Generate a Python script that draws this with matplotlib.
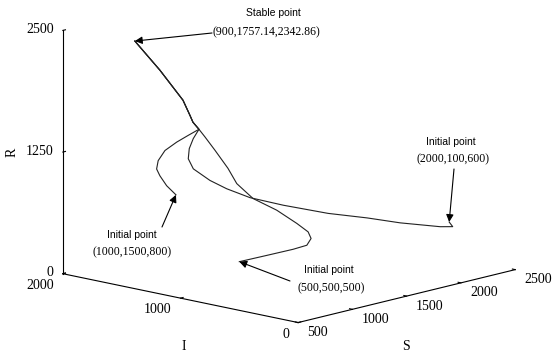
import numpy as np
import matplotlib
matplotlib.use("Agg")
from matplotlib import pyplot as plt
from matplotlib import rcParams
from mpl_toolkits.mplot3d import proj3d

rcParams["font.family"] = "serif"
rcParams["font.serif"] = ["Liberation Serif", "DejaVu Serif"]

W, H = 553, 358

# trajectories, as (S, I, R)
s1 = [2000, 2000, 1950, 1700, 1500, 1300, 1100, 1000, 930, 880, 810, 770, 790, 830]
i1 = [100, 70, 130, 240, 336, 483, 679, 870, 1004, 1100, 1177, 1183, 1193, 1196]
r1 = [600, 560, 558, 638, 719, 783, 872, 929, 1006, 1081, 1200, 1313, 1409, 1500]

s2 = [1000, 920, 850, 810, 780, 770, 800, 850]
i2 = [1500, 1505, 1498, 1489, 1448, 1381, 1309, 1257]
r2 = [800, 914, 1037, 1120, 1224, 1348, 1444, 1513]

s3 = [500, 677, 844, 927, 950, 939, 889, 812, 735, 726, 753, 796, 856]
i3 = [500, 430, 360, 320, 305, 320, 370, 470, 600, 730, 830, 980, 1120]
r3 = [500, 534, 569, 598, 665, 732, 820, 952, 1060, 1183, 1308, 1444, 1529]

# common approach to the stable point
s_tail = [900, 890, 900, 900, 900, 900]
i_tail = [1212, 1254, 1289, 1348, 1544, 1757.14]
r_tail = [1573, 1638, 1698, 1838, 2097, 2342.86]

stable = (900, 1757.14, 2342.86)
starts = [(2000, 100, 600), (1000, 1500, 800), (500, 500, 500)]

s_ticks = [500, 1000, 1500, 2000, 2500]
i_ticks = [0, 1000, 2000]
r_ticks = [0, 1250, 2500]

fig = plt.figure(figsize=(W / 100, H / 100), dpi=100)
ax = fig.add_axes([0.0564, -0.139, 0.908, 1.402], projection="3d", proj_type="ortho")
ax.view_init(elev=13, azim=-137.3)
ax.set_box_aspect((1, 1, 0.78))

for s, i, r in [(s1, i1, r1), (s2, i2, r2), (s3, i3, r3)]:
    ax.plot(s + s_tail, i + i_tail, r + r_tail, color="#222222", lw=0.8)

ax.set_xlim(500, 2500)
ax.set_ylim(0, 2000)
ax.set_zlim(0, 2500)
ax.set_xticks(s_ticks)
ax.set_yticks(i_ticks)
ax.set_zticks(r_ticks)
ax.set_xticklabels([])
ax.set_yticklabels([])
ax.set_zticklabels([])
ax.grid(False)
for axis in (ax.xaxis, ax.yaxis, ax.zaxis):
    axis.pane.set_facecolor((1, 1, 1, 0))
    axis.pane.set_edgecolor((1, 1, 1, 0))
    axis.line.set_color("black")
    axis.line.set_linewidth(0.8)
    axis._axinfo["tick"]["inward_factor"] = 0.0
    axis._axinfo["tick"]["outward_factor"] = 0.15
    axis._axinfo["tick"]["color"] = "black"


def to2d(p):
    x, y, _ = proj3d.proj_transform(p[0], p[1], p[2], ax.get_proj())
    return x, y


# tick labels placed next to the projected tick positions
for v in s_ticks:
    ax.annotate(str(v), xy=to2d((v, 0, 0)), xytext=(9, -10), textcoords="offset pixels",
                ha="left", va="center", fontsize=10)
for v in i_ticks:
    ax.annotate(str(v), xy=to2d((500, v, 0)), xytext=(-9, -11.5), textcoords="offset pixels",
                ha="right", va="center", fontsize=10)
for v in r_ticks:
    ax.annotate(str(v), xy=to2d((500, 2000, v)), xytext=(-9, 1), textcoords="offset pixels",
                ha="right", va="center", fontsize=10)

fig.text(12 / W, 1 - 152 / H, "R", rotation=90, ha="center", va="center", fontsize=10)
fig.text(184 / W, 1 - 347 / H, "I", ha="center", va="center", fontsize=10)
fig.text(406 / W, 1 - 347 / H, "S", ha="center", va="center", fontsize=10)

arrow = dict(arrowstyle="-|>", color="black", lw=0.8, shrinkA=0, shrinkB=0, mutation_scale=11)

# stable point label
fig.text(273 / W, 1 - 13 / H, "Stable point", family="Liberation Sans", fontsize=7.5, ha="center", va="center")
fig.text(266 / W, 1 - 32 / H, "(900,1757.14,2342.86)", fontsize=8.5, ha="center", va="center")
ax.annotate("", xy=to2d(stable), xycoords="data", xytext=(212, H - 33),
            textcoords="figure pixels", arrowprops=arrow)

labels = [((451, 142), (453, 159), "(2000,100,600)", (454, 169)),
          ((132, 235), (132, 252), "(1000,1500,800)", (162, 227)),
          ((329, 270), (331, 288), "(500,500,500)", (290, 281))]
for p, (t1, t2, txt, tail) in zip(starts, labels):
    fig.text(t1[0] / W, 1 - t1[1] / H, "Initial point", family="Liberation Sans",
             fontsize=7.5, ha="center", va="center")
    fig.text(t2[0] / W, 1 - t2[1] / H, txt, fontsize=8.5, ha="center", va="center")
    ax.annotate("", xy=to2d(p), xycoords="data", xytext=(tail[0], H - tail[1]),
                textcoords="figure pixels", arrowprops=arrow)

fig.savefig("out.png", dpi=100, facecolor="white")
